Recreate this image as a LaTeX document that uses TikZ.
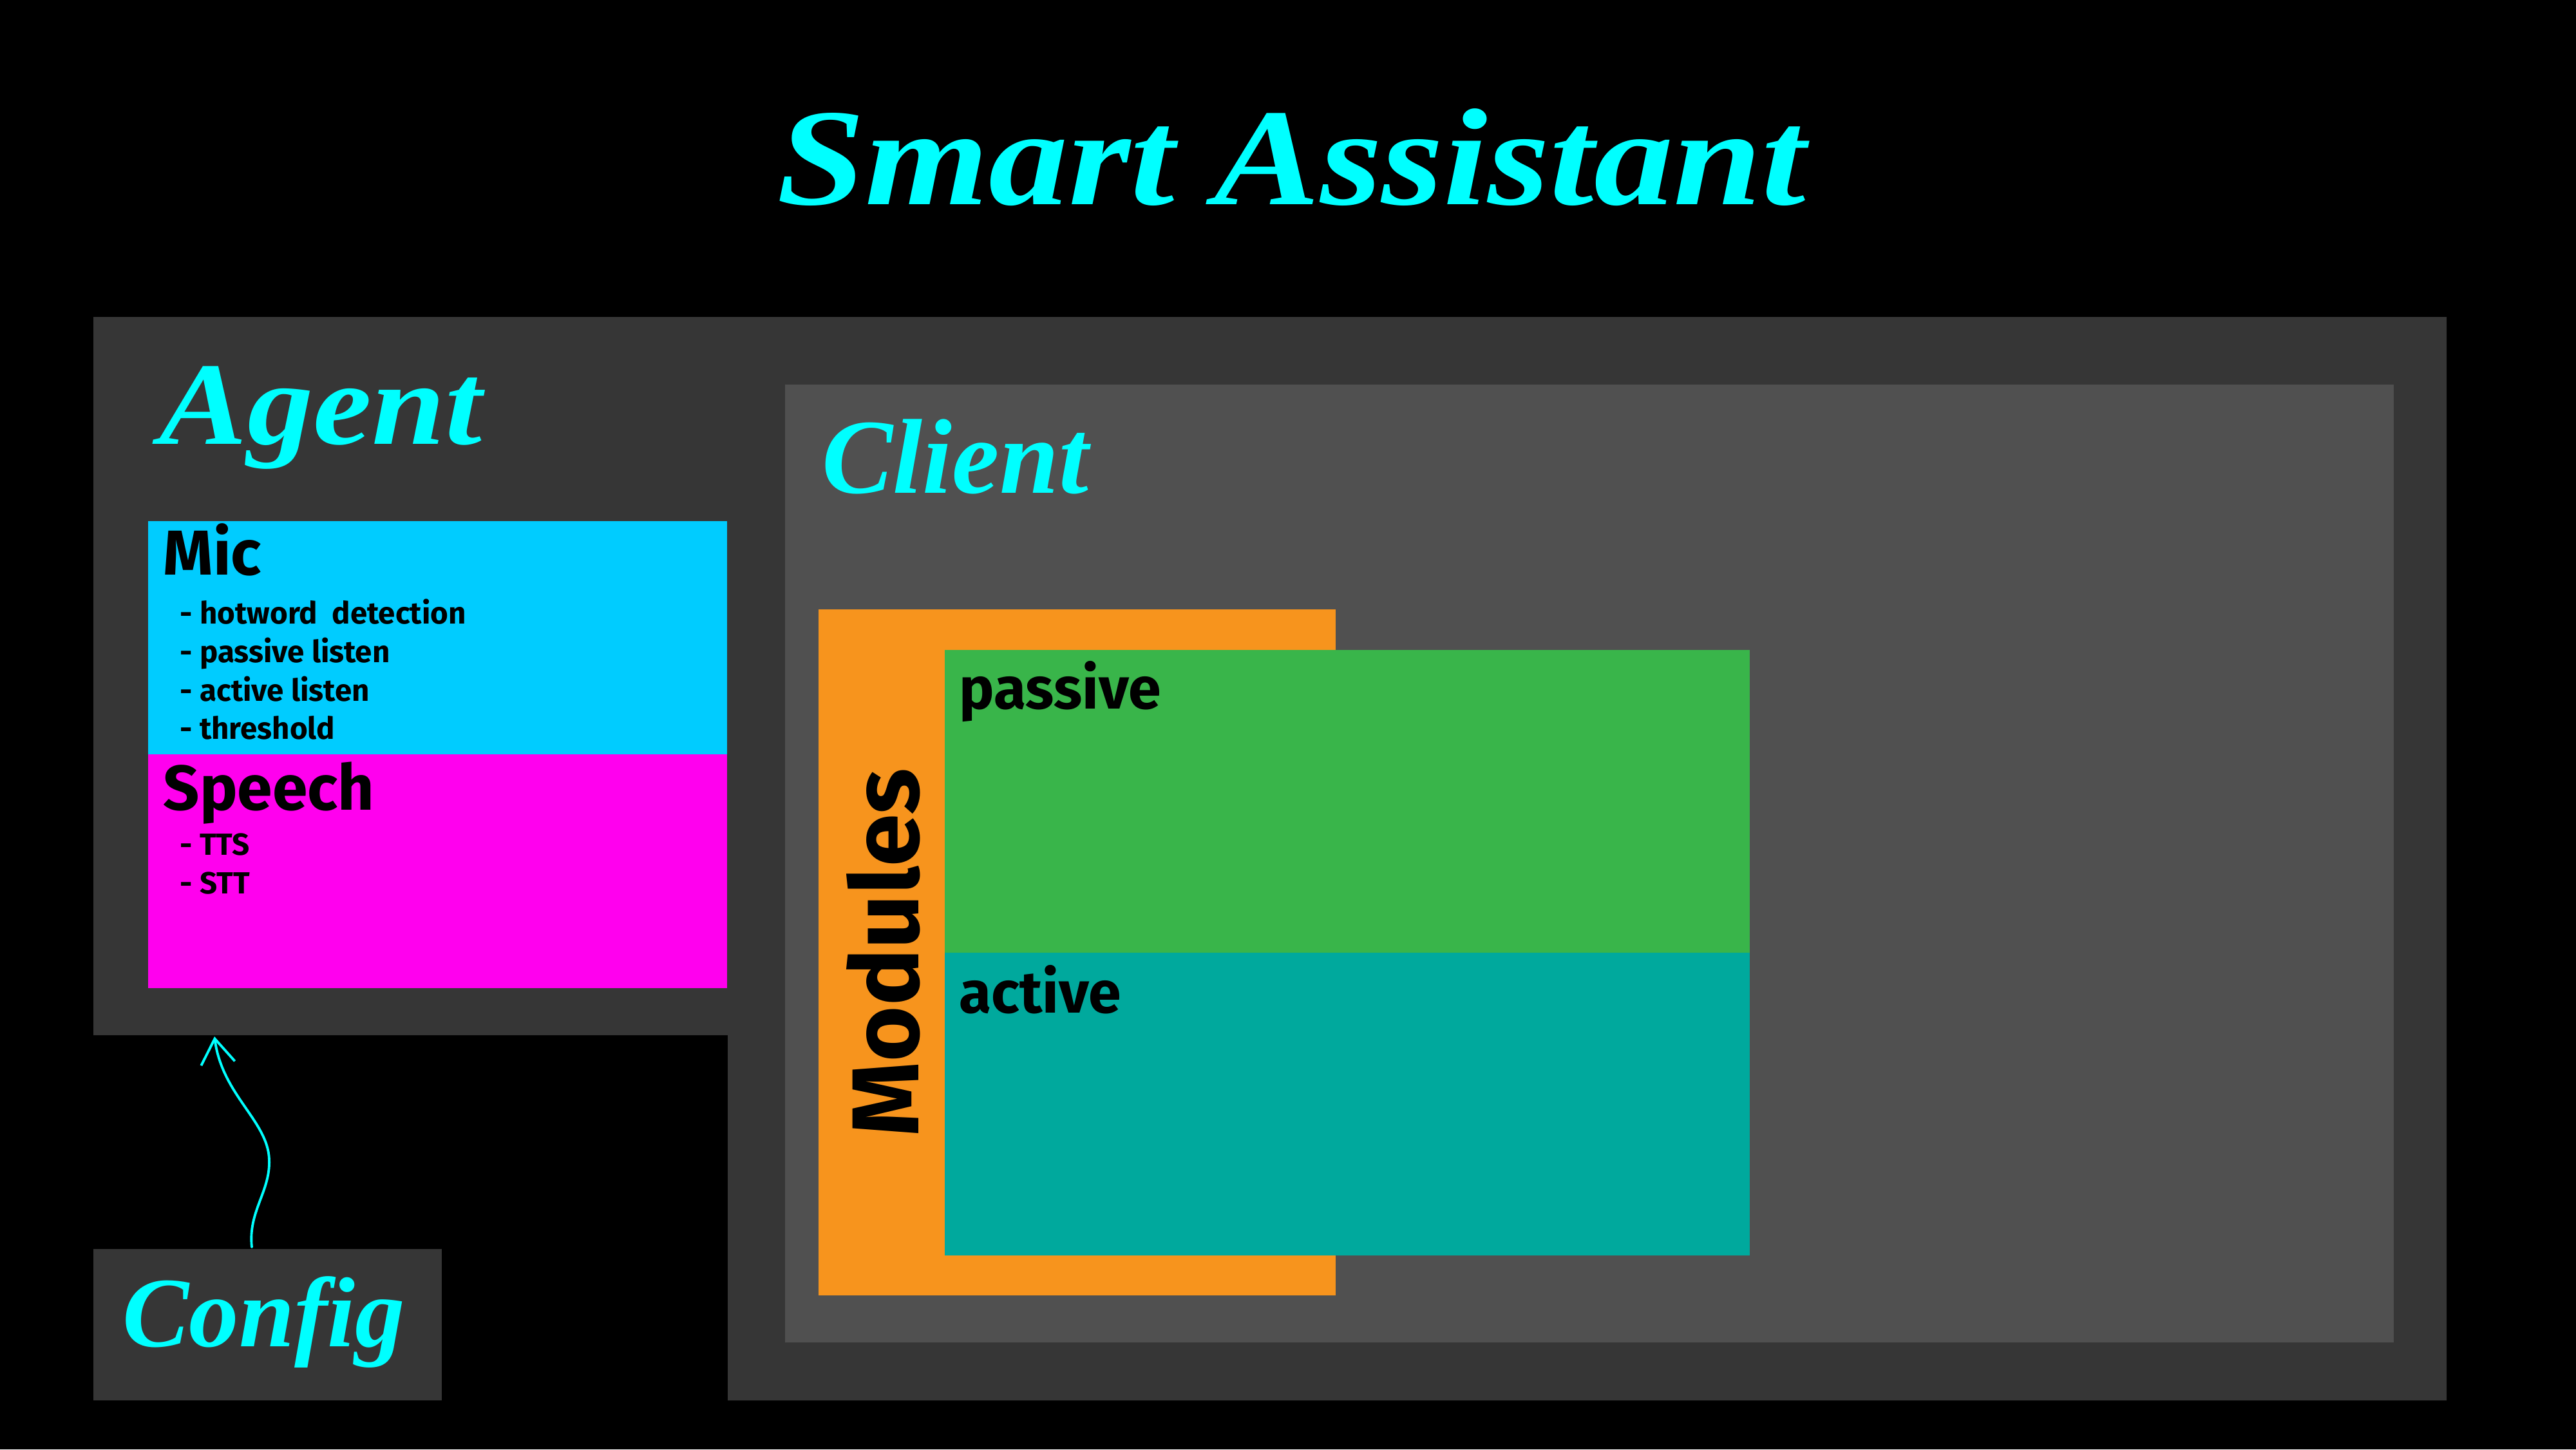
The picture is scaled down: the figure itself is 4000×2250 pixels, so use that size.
\documentclass[tikz,border=0pt]{standalone}
\usepackage{fontspec}
\setmainfont{Fira Sans}
\newfontfamily\headfont{Liberation Serif}
\usetikzlibrary{arrows.meta,fit}

\definecolor{bgblack}{HTML}{000000}
\definecolor{panel}{HTML}{363636}
\definecolor{clientgray}{HTML}{505050}
\definecolor{micblue}{HTML}{00CCFF}
\definecolor{speechpink}{HTML}{FF00EE}
\definecolor{modorange}{HTML}{F7941D}
\definecolor{passgreen}{HTML}{39B54A}
\definecolor{actteal}{HTML}{00A99D}
\definecolor{headcyan}{HTML}{00FFFF}

\tikzset{
  block/.style={inner sep=0pt, outer sep=0pt, fill=#1},
  heading/.style={text=headcyan, inner sep=0pt, anchor=base west,
                  font=\headfont\bfseries\itshape},
  label/.style={text=black, inner sep=0pt, anchor=base west, font=\bfseries},
  item/.style={text=black, inner sep=0pt, anchor=base west,
               font=\fontsize{13.5}{16}\selectfont\bfseries},
  link/.style={draw=headcyan, line width=1.1pt, line cap=round,
               -{Straight Barb[length=11pt,width=15pt,line width=1.1pt]}}
}

\begin{document}
\begin{tikzpicture}[x=0.01cm, y=-0.01cm]
  % page background
  \fill[bgblack] (0,0) rectangle (4000,2250);
  \useasboundingbox (0,0) rectangle (4000,2250);

  % outer L-shaped panel holding agent and client
  \fill[panel] (145,492) -- (3799,492) -- (3799,2174) -- (1130,2174)
               -- (1130,1607) -- (145,1607) -- cycle;
  \coordinate (agentbottom) at (333,1609);

  % client area
  \node[block=clientgray, fit={(1219,597) (3717,2084)}] (client) {};

  % agent components
  \node[block=micblue, fit={(230,809) (1129,1171)}] (mic) {};
  \node[block=speechpink, fit={(230,1171) (1129,1534)}] (speech) {};

  % modules stack
  \node[block=modorange, fit={(1271,946) (2074,2011)}] (modules) {};
  \node[block=passgreen, fit={(1467,1009) (2717,1479)}] (passive) {};
  \node[block=actteal, fit={(1467,1479) (2717,1949)}] (active) {};

  % config box
  \node[block=panel, fit={(145,1939) (686,2174)}] (config) {};

  % headings
  \node[heading, xscale=1.15, font=\headfont\bfseries\itshape\fontsize{61}{70}\selectfont]
    (title) at (1206,317) {Smart Assistant};
  \node[heading, xscale=1.12, font=\headfont\bfseries\itshape\fontsize{52}{60}\selectfont]
    (agenttitle) at (247,689) {Agent};
  \node[heading, font=\headfont\bfseries\itshape\fontsize{47}{54}\selectfont]
    (clienttitle) at (1276,765) {Client};
  \node[heading, font=\headfont\bfseries\itshape\fontsize{44}{50}\selectfont]
    (configtitle) at (190,2090) {Config};

  % mic contents
  \node[label, font=\bfseries\fontsize{28}{32}\selectfont] (miclabel) at (253,892) {Mic};
  \node[item] (i1) at (279,968)  {- hotword\ \ detection};
  \node[item] (i2) at (279,1028) {- passive listen};
  \node[item] (i3) at (279,1088) {- active listen};
  \node[item] (i4) at (279,1147) {- threshold};

  % speech contents
  \node[label, font=\bfseries\fontsize{28}{32}\selectfont] (speechlabel) at (253,1257) {Speech};
  \node[item] (i5) at (279,1327) {- TTS};
  \node[item] (i6) at (279,1387) {- STT};

  % module contents
  \node[label, font=\bfseries\fontsize{42}{48}\selectfont, rotate=90]
    (modlabel) at (1426,1765) {Modules};
  \node[label, font=\bfseries\fontsize{26}{30}\selectfont] (passlabel) at (1489,1100) {passive};
  \node[label, font=\bfseries\fontsize{26}{30}\selectfont] (actlabel) at (1489,1572) {active};

  % config feeds the agent
  \coordinate (configtop) at (391,1936);
  \draw[link] (configtop) .. controls (385,1880) and (420,1850) .. (418,1800)
              .. controls (416,1740) and (345,1700) .. (agentbottom);
\end{tikzpicture}
\end{document}
